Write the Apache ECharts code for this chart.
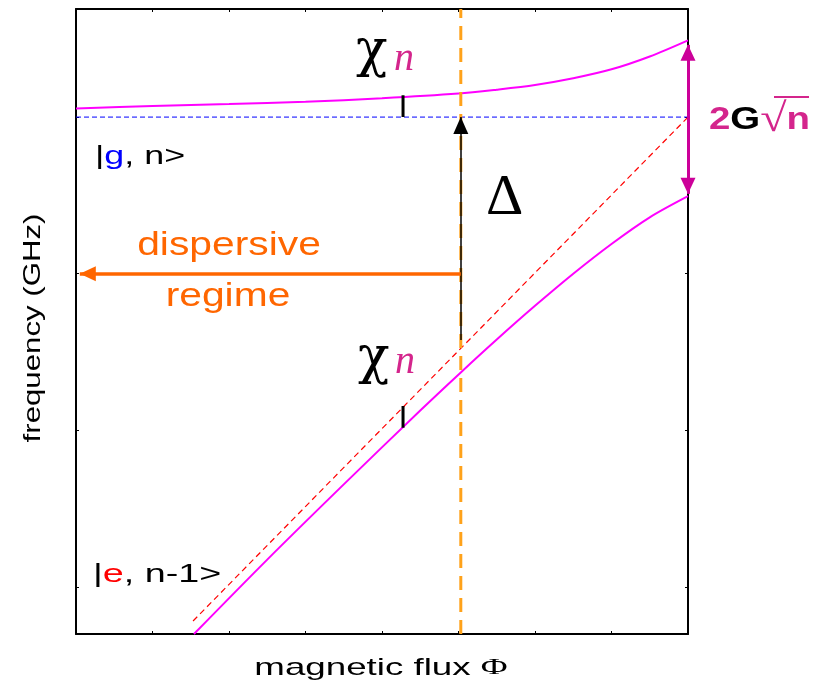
<!DOCTYPE html>
<html>
<head>
<meta charset="utf-8">
<script src="https://cdn.jsdelivr.net/npm/echarts@6/dist/echarts.min.js"></script>
<style>
  html, body { margin: 0; padding: 0; background: #fff; }
  #chart { width: 823px; height: 687px; }
</style>
</head>
<body>
<div id="chart"></div>
<script>
// Axis ticks (flux and frequency in arbitrary units)
const fluxTicks = [0, 1, 2, 3, 4, 5, 6, 7, 8];
const freqTicks = [1, 2, 3, 4];

// Upper dressed branch (|g, n> side)
const upperFlux = [0, 1, 2, 3, 4, 5, 5.5, 6, 6.5, 7, 7.5, 8];
const upperFreq = [4.055, 4.07, 4.083, 4.098, 4.12, 4.15, 4.175, 4.205, 4.248, 4.305, 4.387, 4.49];

// Lower dressed branch (|e, n-1> side)
const lowerFlux = [1.542, 2.5, 3.5, 4.5, 5.03, 5.5, 6, 6.5, 7, 7.5, 8];
const lowerFreq = [0.7, 1.175, 1.655, 2.127, 2.37, 2.58, 2.795, 3.0, 3.19, 3.36, 3.495];

// Bare levels
const resonatorFlux = [0, 8];
const resonatorFreq = [4, 4];
const qubitFlux = [1.53, 8];
const qubitFreq = [0.783, 4];

// Operating point and detuning
const operatingFlux = 5.03;
const detuningFreq = [2.577, 4];

// Dispersive shift markers
const shiftFlux = 4.275;
const upperShift = [4.0, 4.14];
const lowerShift = [2.016, 2.155];

// Dispersive regime arrow
const regimeFreq = 3;
const regimeFlux = [5.03, 0.05];

// Vacuum Rabi splitting arrow
const splittingFlux = 8;
const splittingFreq = [3.51, 4.461];

const FREQ_MIN = 0.7, FREQ_MAX = 4.69;

const zip = (xs, ys) => xs.map((x, i) => [x, ys[i]]);

const SANS = 'Liberation Sans, Arial, sans-serif';
const SERIF = 'Liberation Serif, Times New Roman, serif';
const GREEK = 'DejaVu Serif, serif';
const PINK = '#d4258c';

const chart = echarts.init(document.getElementById('chart'), null, { renderer: 'canvas' });

const axisLine = { show: true, onZero: false, lineStyle: { color: '#000', width: 2 } };
const tick = { show: true, inside: true, length: 3, lineStyle: { color: '#000', width: 1 } };

function xAxisDef(position) {
  return {
    type: 'value', position, min: 0, max: 8, interval: 1,
    axisLine, axisTick: Object.assign({ customValues: fluxTicks }, tick),
    axisLabel: { show: false }, splitLine: { show: false }
  };
}
function yAxisDef(position) {
  return {
    type: 'value', position, min: FREQ_MIN, max: FREQ_MAX,
    axisLine, axisTick: Object.assign({ customValues: freqTicks }, tick),
    axisLabel: { show: false }, splitLine: { show: false }
  };
}

function segment(data, color, width, type) {
  return {
    type: 'line', data, showSymbol: false, silent: true,
    lineStyle: { color, width, type: type || 'solid' }, z: 3
  };
}

function arrowPair(from, to, color, width, startSym, endSym) {
  return [
    { coord: from, symbol: startSym ? 'triangle' : 'none',
      symbolSize: startSym || 0, symbolOffset: startSym ? [0, startSym[1] / 2] : 0,
      lineStyle: { color, width, type: 'solid' } },
    { coord: to, symbol: endSym ? 'triangle' : 'none',
      symbolSize: endSym || 0, symbolOffset: endSym ? [0, endSym[1] / 2] : 0 }
  ];
}

const option = {
  animation: false,
  backgroundColor: '#fff',
  grid: { left: 76, right: 135, top: 9, bottom: 53 },
  xAxis: [xAxisDef('bottom'), xAxisDef('top')],
  yAxis: [yAxisDef('left'), yAxisDef('right')],
  series: [
    segment(zip(resonatorFlux, resonatorFreq), '#0000ff', 1, [5, 3]),
    segment(zip(qubitFlux, qubitFreq), '#ff0000', 1.2, [6, 4]),
    Object.assign(segment(zip(upperFlux, upperFreq), '#ff00ff', 2), { smooth: 0.3 }),
    Object.assign(segment(zip(lowerFlux, lowerFreq), '#ff00ff', 2), { smooth: 0.3 }),
    segment([[operatingFlux, FREQ_MIN], [operatingFlux, FREQ_MAX]], '#ffa21a', 3, [14, 8]),
    segment([[shiftFlux, upperShift[0]], [shiftFlux, upperShift[1]]], '#000', 3),
    segment([[shiftFlux, lowerShift[0]], [shiftFlux, lowerShift[1]]], '#000', 3),
    {
      type: 'line', data: [], silent: true, z: 5,
      markLine: {
        silent: true, animation: false,
        label: { show: false },
        emphasis: { disabled: true },
        data: [
          arrowPair([operatingFlux, detuningFreq[0]], [operatingFlux, detuningFreq[1]], '#000', 1.5, null, [15, 17]),
          arrowPair([regimeFlux[0], regimeFreq], [regimeFlux[1], regimeFreq], '#ff6600', 3.5, null, [15, 16]),
          arrowPair([splittingFlux, splittingFreq[0]], [splittingFlux, splittingFreq[1]], '#cc0099', 3, [15, 16], [15, 16])
        ]
      }
    }
  ],
  graphic: [
    // axis titles
    { type: 'text', x: 33, y: 328, rotation: Math.PI / 2, scaleX: 1.3,
      style: { text: 'frequency (GHz)', font: '24px ' + SANS, fill: '#000', align: 'center', verticalAlign: 'middle' } },
    { type: 'text', x: 381, y: 668, scaleX: 1.53,
      style: { text: '{a|magnetic flux }{b|Φ}', align: 'center', verticalAlign: 'middle',
        rich: { a: { font: '24px ' + SANS, fill: '#000' }, b: { font: '24px ' + SERIF, fill: '#000' } } } },
    // state labels
    { type: 'text', x: 95, y: 157, scaleX: 1.38,
      style: { text: '{k||}{g|g}{k|, n>}', align: 'left', verticalAlign: 'middle',
        rich: { k: { font: '26px ' + SANS, fill: '#000' }, g: { font: '26px ' + SANS, fill: '#0000ff' } } } },
    { type: 'text', x: 93, y: 575, scaleX: 1.45,
      style: { text: '{k||}{e|e}{k|, n-1>}', align: 'left', verticalAlign: 'middle',
        rich: { k: { font: '26px ' + SANS, fill: '#000' }, e: { font: '26px ' + SANS, fill: '#ff0000' } } } },
    // dispersive shift labels
    { type: 'text', x: 356, y: 52, style: { text: 'χ', font: '52px ' + GREEK, fill: '#000', align: 'left', verticalAlign: 'middle' } },
    { type: 'text', x: 394, y: 59, style: { text: 'n', font: 'italic 40px ' + SERIF, fill: PINK, align: 'left', verticalAlign: 'middle' } },
    { type: 'text', x: 358, y: 359, style: { text: 'χ', font: '52px ' + GREEK, fill: '#000', align: 'left', verticalAlign: 'middle' } },
    { type: 'text', x: 395, y: 362, style: { text: 'n', font: 'italic 40px ' + SERIF, fill: PINK, align: 'left', verticalAlign: 'middle' } },
    // detuning
    { type: 'text', x: 486, y: 199, style: { text: 'Δ', font: '58px ' + SERIF, fill: '#000', align: 'left', verticalAlign: 'middle' } },
    // dispersive regime
    { type: 'text', x: 229, y: 246, scaleX: 1.2,
      style: { text: 'dispersive', font: '34px ' + SANS, fill: '#ff6600', align: 'center', verticalAlign: 'middle' } },
    { type: 'text', x: 228, y: 297, scaleX: 1.2,
      style: { text: 'regime', font: '34px ' + SANS, fill: '#ff6600', align: 'center', verticalAlign: 'middle' } },
    // vacuum Rabi splitting
    { type: 'text', x: 709, y: 120, scaleX: 1.2,
      style: { text: '{p|2}{k|G}{r|√}{p|n}', align: 'left', verticalAlign: 'middle',
        rich: { p: { font: 'bold 32px ' + SANS, fill: PINK }, k: { font: 'bold 32px ' + SANS, fill: '#000' },
                r: { font: '40px ' + SERIF, fill: PINK } } } },
    { type: 'line', shape: { x1: 774, y1: 97, x2: 809, y2: 97 }, style: { stroke: PINK, lineWidth: 2 } }
  ]
};

chart.setOption(option);
</script>
</body>
</html>
